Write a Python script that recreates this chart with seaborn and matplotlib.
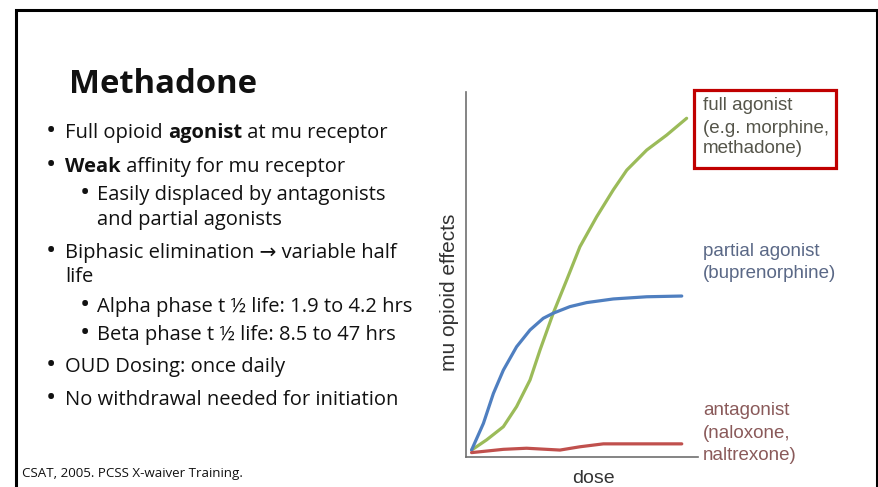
import numpy as np
import pandas as pd
import matplotlib
matplotlib.use("Agg")
import matplotlib.pyplot as plt
from matplotlib.patches import Rectangle
import seaborn as sns

# dose-response curves (dose 0-100, effect 0-100)
full_dose = [2.4, 8.9, 16.1, 21.8, 27.6, 31.9, 37.6, 43.4, 49.1, 56.3, 63.5, 69.3, 77.9, 86.5, 95.1]
full_effect = [1.9, 4.7, 8.3, 13.8, 21.1, 29.3, 39.4, 48.5, 57.6, 65.8, 73.2, 78.6, 84.1, 88.2, 92.8]
partial_dose = [2.4, 7.5, 11.8, 16.1, 21.8, 27.6, 33.3, 37.6, 44.8, 52.0, 63.5, 77.9, 93.0]
partial_effect = [1.9, 9.2, 17.4, 23.8, 30.2, 34.8, 38.0, 39.4, 41.2, 42.3, 43.3, 43.9, 44.1]
antag_dose = [2.4, 16.1, 26.1, 40.5, 49.1, 59.2, 73.6, 93.0]
antag_effect = [1.2, 2.1, 2.4, 1.9, 2.8, 3.6, 3.6, 3.6]

curve_names = ["full agonist", "partial agonist", "antagonist"]
curve_colors = ["#9bbb59", "#4f7fc0", "#c0504d"]

bullets = [
    (0, [("Full opioid ", False), ("agonist", True), (" at mu receptor", False)]),
    (0, [("Weak", True), (" affinity for mu receptor", False)]),
    (1, [("Easily displaced by antagonists", False)]),
    (-1, [("and partial agonists", False)]),
    (0, [("Biphasic elimination \u2192 variable half", False)]),
    (-2, [("life", False)]),
    (1, [("Alpha phase t \u00bd life: 1.9 to 4.2 hrs", False)]),
    (1, [("Beta phase t \u00bd life: 8.5 to 47 hrs", False)]),
    (0, [("OUD Dosing: once daily", False)]),
    (0, [("No withdrawal needed for initiation", False)]),
]
bullet_baselines = [138, 172, 200, 225, 258, 282, 312, 340, 372, 405]

W, H = 879, 487
sns.set_theme(style="white")
plt.rcParams["font.family"] = ["Open Sans", "DejaVu Sans"]

fig = plt.figure(figsize=(W / 100, H / 100), dpi=100)
fig.patch.set_facecolor("white")
renderer = fig.canvas.get_renderer()


def px(x, y):
    return x / W, 1 - y / H


def fit_size(txt, width, **kw):
    t = fig.text(0, 0, txt, fontsize=10, **kw)
    w = t.get_window_extent(renderer=renderer).width
    t.remove()
    return 10 * width / w


# slide frame
frame = fig.add_axes([0, 0, 1, 1])
frame.set_xlim(0, W)
frame.set_ylim(H, 0)
frame.axis("off")
frame.plot([16, 16, 877, 877], [H + 5, 10, 10, H + 5], color="black", lw=2.2,
           solid_joinstyle="miter")

# title
title_size = fit_size("Methadone", 188, fontweight="bold")
fig.text(*px(69, 93), "Methadone", fontsize=title_size, fontweight="bold", color="#111111")

# bullet text with bold runs
body_size = fit_size("No withdrawal needed for initiation", 334)
for (level, runs), base in zip(bullets, bullet_baselines):
    if level == 0:
        fig.text(*px(51, base + 1), "\u2022", fontsize=body_size * 1.35, color="#111111",
                 ha="center", va="baseline")
        x0 = 65
    elif level == 1:
        fig.text(*px(85, base + 1), "\u2022", fontsize=body_size * 1.35, color="#111111",
                 ha="center", va="baseline")
        x0 = 97
    elif level == -1:
        x0 = 97
    else:
        x0 = 65
    for txt, bold in runs:
        t = fig.text(*px(x0, base), txt, fontsize=body_size, color="#111111",
                     fontweight="bold" if bold else "normal")
        x0 += t.get_window_extent(renderer=renderer).width

fig.text(*px(22, 477), "CSAT, 2005. PCSS X-waiver Training.",
         fontsize=fit_size("CSAT, 2005. PCSS X-waiver Training.", 221), color="#111111")

# chart
ax = fig.add_axes([466 / W, (H - 457) / H, (698 - 466) / W, (457 - 92) / H])
df = pd.concat([
    pd.DataFrame({"dose": full_dose, "effect": full_effect, "drug": curve_names[0]}),
    pd.DataFrame({"dose": partial_dose, "effect": partial_effect, "drug": curve_names[1]}),
    pd.DataFrame({"dose": antag_dose, "effect": antag_effect, "drug": curve_names[2]}),
])
sns.lineplot(data=df, x="dose", y="effect", hue="drug", palette=curve_colors,
             hue_order=curve_names, linewidth=2.3, legend=False, ax=ax, sort=True)
for line in ax.lines:
    line.set_solid_joinstyle("round")
    line.set_solid_capstyle("round")
ax.set_xlim(0, 100)
ax.set_ylim(0, 100)
ax.set_xticks([])
ax.set_yticks([])
for s in ["top", "right"]:
    ax.spines[s].set_visible(False)
for s in ["left", "bottom"]:
    ax.spines[s].set_color("#6f6f6f")
    ax.spines[s].set_linewidth(1.2)
ax.set_xlabel("")
ax.set_ylabel("")
ax.patch.set_alpha(0)

lab = dict(family=["Liberation Sans", "DejaVu Sans"])
fig.text(*px(450, 292), "mu opioid effects", rotation=90, ha="center", va="center",
         fontsize=15, color="#333333", **lab)
fig.text(*px(593, 483), "dose", ha="center", va="baseline", fontsize=14, color="#333333", **lab)

label_lines = [
    ("full agonist", 110, "#55554a"), ("(e.g. morphine,", 133, "#55554a"), ("methadone)", 153, "#55554a"),
    ("partial agonist", 256, "#5a6886"), ("(buprenorphine)", 278, "#5a6886"),
    ("antagonist", 415, "#8a5a5a"), ("(naloxone,", 438, "#8a5a5a"), ("naltrexone)", 460, "#8a5a5a"),
]
for txt, base, col in label_lines:
    fig.text(*px(703, base), txt, fontsize=13.5, color=col, va="baseline", **lab)

frame.add_patch(Rectangle((694, 90), 142, 78, fill=False, edgecolor="#c00000", lw=2.3))

fig.savefig("out.png", dpi=100, facecolor="white")
